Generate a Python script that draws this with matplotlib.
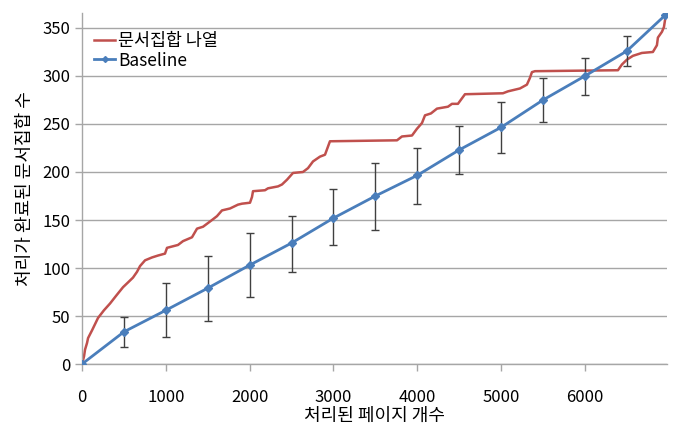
import matplotlib
matplotlib.use("Agg")
import matplotlib.pyplot as plt

plt.rcParams['font.family'] = ['Noto Sans CJK KR', 'DejaVu Sans']

# red curve: documents finished vs pages processed
red_x = [0, 24, 36, 60, 72, 119, 191, 262, 334, 406, 489, 549, 608, 656, 692,
         752, 835, 907, 990, 1014, 1145, 1205, 1312, 1372, 1444, 1551, 1610,
         1670, 1766, 1861, 1909, 2004, 2028, 2040, 2183, 2219, 2338, 2386,
         2446, 2517, 2636, 2696, 2756, 2839, 2899, 2958, 3758, 3817, 3937,
         3996, 4056, 4092, 4163, 4235, 4366, 4414, 4485, 4569, 5022, 5082,
         5225, 5308, 5344, 5368, 5404, 6394, 6442, 6501, 6573, 6680, 6811,
         6859, 6871, 6919, 6943, 6966]
red_y = [0, 8, 15, 22, 27, 35, 48, 56, 63, 71, 80, 85, 90, 96, 102,
         108, 111, 113, 115, 121, 124, 128, 132, 141, 143, 150, 154,
         160, 162, 166, 167, 168, 174, 180, 181, 183, 185, 187,
         192, 199, 200, 204, 211, 216, 218, 232, 233, 237, 238,
         245, 251, 259, 261, 266, 268, 271, 271, 281, 282, 284,
         287, 291, 298, 304, 305, 306, 312, 317, 321, 324, 325,
         332, 340, 346, 351, 364]

# baseline with error bars
base_x = [0, 500, 1000, 1500, 2000, 2500, 3000, 3500, 4000, 4500, 5000,
          5500, 6000, 6500, 6960]
base_y = [0, 33.5, 56, 79, 103, 126, 152, 175, 196.5, 223, 246.5, 275,
          300, 326, 363.5]
err_lo = [0, 18, 28, 45, 70, 95.5, 124, 139.6, 167, 198, 219.5, 251.7,
          280, 310.4, 363.5]
err_hi = [0, 48.6, 84, 113, 136, 154.5, 182, 209.7, 225, 247.6, 272.6,
          297.6, 318.5, 341.7, 363.5]

red = "#C0504D"
blue = "#4A7EBB"
grid = "#A6A6A6"

fig = plt.figure(figsize=(6.79, 4.25), dpi=100)
ax = fig.add_axes([0.1208, 0.1435, 0.8616, 0.8268])

ax.plot(red_x, red_y, color=red, lw=1.8, label="문서집합 나열")

lo = [y - l for y, l in zip(base_y, err_lo)]
hi = [h - y for y, h in zip(base_y, err_hi)]
eb_x = base_x[1:-1]
ax.errorbar(eb_x, base_y[1:-1], yerr=[lo[1:-1], hi[1:-1]], fmt="none",
            ecolor="#404040", elinewidth=1.0, capsize=3, capthick=1.0, zorder=2)
ax.plot(base_x, base_y, color=blue, lw=2, marker="D", markersize=4.5,
        markeredgecolor=blue, label="Baseline", zorder=3)

ax.set_xlim(0, 6980)
ax.set_ylim(0, 366)
ax.set_xticks(range(0, 7000, 1000))
ax.set_yticks(range(0, 351, 50))
ax.yaxis.grid(True, color=grid, lw=1)
ax.set_axisbelow(True)
for s in ["top", "right"]:
    ax.spines[s].set_visible(False)
for s in ["left", "bottom"]:
    ax.spines[s].set_color(grid)
    ax.spines[s].set_linewidth(1)
ax.tick_params(axis="both", colors=grid, length=5, width=1, labelsize=12,
               labelcolor="black")
ax.tick_params(axis="x", pad=13)

ax.set_xlabel("처리된 페이지 개수", fontsize=13, labelpad=1)
ax.set_ylabel("처리가 완료된 문서집합 수", fontsize=13, labelpad=6)

leg = ax.legend(loc="upper left", bbox_to_anchor=(0.0, 0.98), frameon=False,
                fontsize=12.5, handlelength=1.2, handletextpad=0.2,
                labelspacing=0.1, borderaxespad=0.3)
for h in leg.legend_handles:
    h.set_markersize(3)

fig.savefig("out.png", dpi=100)
